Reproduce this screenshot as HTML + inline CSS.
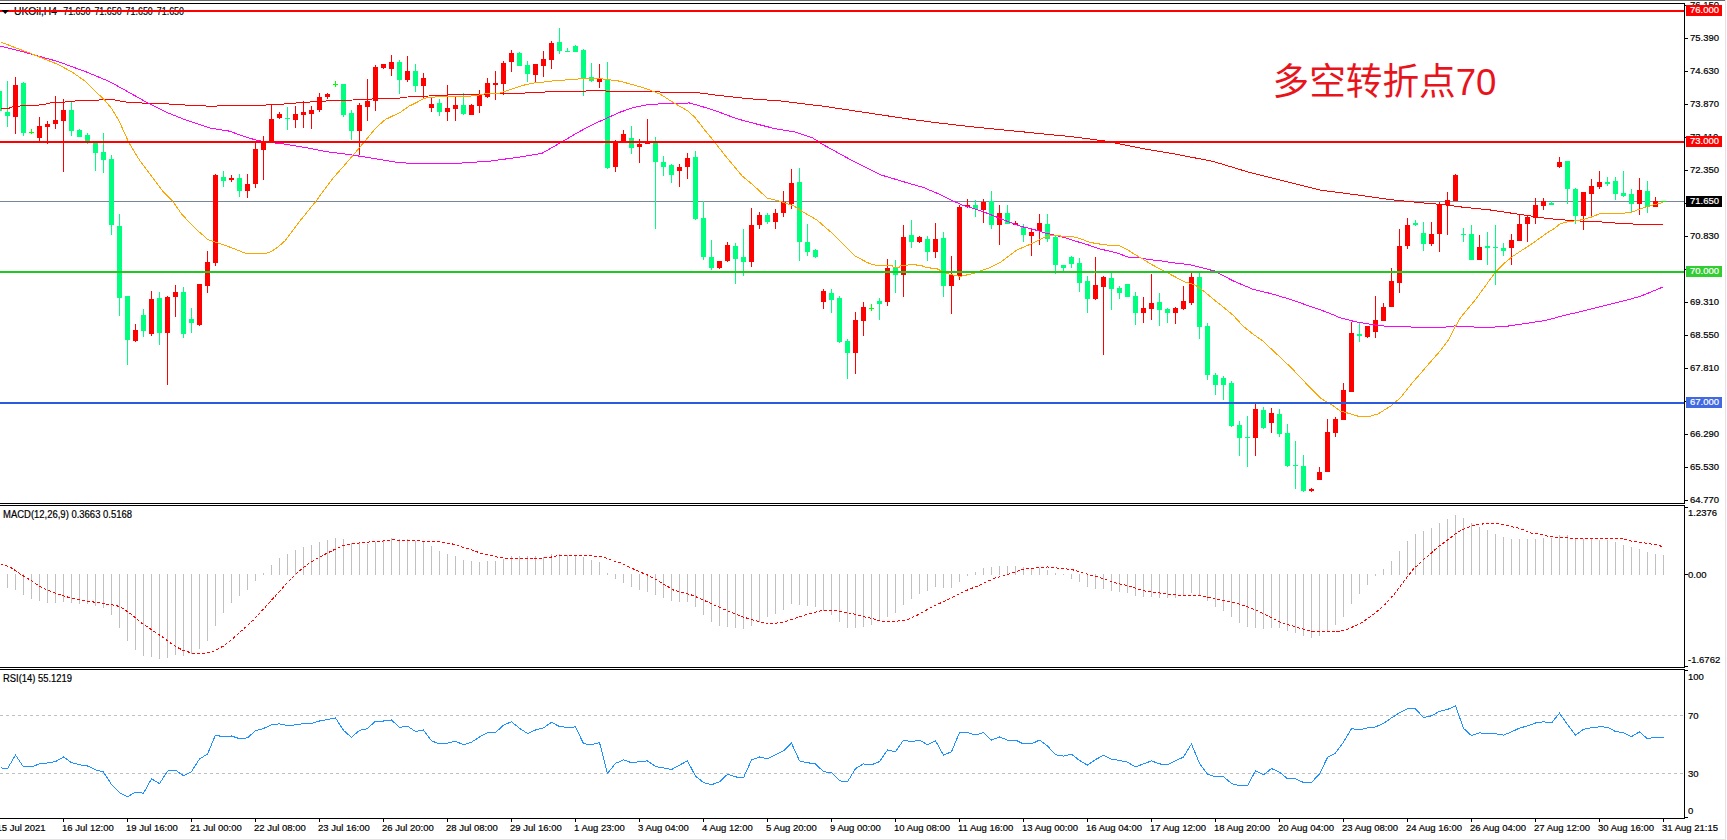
<!DOCTYPE html>
<html lang="zh"><head><meta charset="utf-8"><title>UKOil,H4</title>
<style>
html,body{margin:0;padding:0;background:#fff;}
body{width:1727px;height:840px;overflow:hidden;}
svg{display:block;}
svg text{font-family:"Liberation Sans","Noto Sans CJK SC",sans-serif;}
.sm{stroke:currentColor;stroke-width:0.3px;}
</style></head><body>
<svg width="1727" height="840" viewBox="0 0 1727 840">
<rect x="0" y="0" width="1727" height="840" fill="#fff"/>
<g shape-rendering="crispEdges">
<rect x="0" y="0" width="1725" height="1" fill="#6a6a6a"/>
<rect x="1725" y="0" width="1" height="840" fill="#e3e3e3"/>
<rect x="0" y="839" width="1726" height="1" fill="#e3e3e3"/>
<rect x="0" y="3" width="1684" height="1" fill="#000"/>
<rect x="0" y="503" width="1685" height="1" fill="#000"/>
<rect x="0" y="505" width="1684" height="1" fill="#000"/>
<rect x="0" y="667" width="1685" height="1" fill="#000"/>
<rect x="0" y="669" width="1684" height="1" fill="#000"/>
<rect x="0" y="818" width="1685" height="1" fill="#000"/>
<rect x="1684" y="3" width="1" height="501" fill="#000"/>
<rect x="1684" y="505" width="1" height="163" fill="#000"/>
<rect x="1684" y="669" width="1" height="150" fill="#000"/>
<defs><clipPath id="cm"><rect x="0" y="4" width="1684" height="499"/></clipPath><clipPath id="cd"><rect x="0" y="506" width="1684" height="161"/></clipPath><clipPath id="cr"><rect x="0" y="670" width="1684" height="148"/></clipPath></defs>
<g clip-path="url(#cm)">
<rect x="0" y="201" width="1684" height="1" fill="#778899"/>
<rect x="-1" y="88" width="1" height="27" fill="#00ff7f"/>
<rect x="-3" y="91" width="5" height="20" fill="#00ff7f"/>
<rect x="7" y="81" width="1" height="46" fill="#00ff7f"/>
<rect x="5" y="112" width="5" height="4" fill="#00ff7f"/>
<rect x="15" y="77" width="1" height="57" fill="#ff0000"/>
<rect x="13" y="85" width="5" height="32" fill="#ff0000"/>
<rect x="23" y="82" width="1" height="54" fill="#00ff7f"/>
<rect x="21" y="83" width="5" height="50" fill="#00ff7f"/>
<rect x="31" y="129" width="1" height="5" fill="#00ff00"/>
<rect x="29" y="132" width="5" height="1" fill="#00ff00"/>
<rect x="39" y="117" width="1" height="24" fill="#ff0000"/>
<rect x="37" y="126" width="5" height="12" fill="#ff0000"/>
<rect x="47" y="121" width="1" height="23" fill="#ff0000"/>
<rect x="45" y="124" width="5" height="3" fill="#ff0000"/>
<rect x="55" y="96" width="1" height="33" fill="#ff0000"/>
<rect x="53" y="120" width="5" height="4" fill="#ff0000"/>
<rect x="63" y="99" width="1" height="73" fill="#ff0000"/>
<rect x="61" y="110" width="5" height="11" fill="#ff0000"/>
<rect x="71" y="102" width="1" height="34" fill="#00ff7f"/>
<rect x="69" y="110" width="5" height="21" fill="#00ff7f"/>
<rect x="79" y="129" width="1" height="8" fill="#00ff7f"/>
<rect x="77" y="130" width="5" height="7" fill="#00ff7f"/>
<rect x="87" y="133" width="1" height="11" fill="#00ff7f"/>
<rect x="85" y="135" width="5" height="7" fill="#00ff7f"/>
<rect x="95" y="142" width="1" height="29" fill="#00ff7f"/>
<rect x="93" y="143" width="5" height="10" fill="#00ff7f"/>
<rect x="103" y="133" width="1" height="40" fill="#00ff7f"/>
<rect x="101" y="152" width="5" height="8" fill="#00ff7f"/>
<rect x="111" y="155" width="1" height="80" fill="#00ff7f"/>
<rect x="109" y="159" width="5" height="66" fill="#00ff7f"/>
<rect x="119" y="214" width="1" height="102" fill="#00ff7f"/>
<rect x="117" y="226" width="5" height="72" fill="#00ff7f"/>
<rect x="127" y="296" width="1" height="69" fill="#00ff7f"/>
<rect x="125" y="296" width="5" height="44" fill="#00ff7f"/>
<rect x="135" y="324" width="1" height="18" fill="#ff0000"/>
<rect x="133" y="330" width="5" height="11" fill="#ff0000"/>
<rect x="143" y="309" width="1" height="28" fill="#00ff7f"/>
<rect x="141" y="315" width="5" height="16" fill="#00ff7f"/>
<rect x="151" y="291" width="1" height="45" fill="#ff0000"/>
<rect x="149" y="299" width="5" height="35" fill="#ff0000"/>
<rect x="159" y="292" width="1" height="53" fill="#00ff7f"/>
<rect x="157" y="298" width="5" height="35" fill="#00ff7f"/>
<rect x="167" y="296" width="1" height="89" fill="#ff0000"/>
<rect x="165" y="297" width="5" height="36" fill="#ff0000"/>
<rect x="175" y="285" width="1" height="32" fill="#ff0000"/>
<rect x="173" y="292" width="5" height="5" fill="#ff0000"/>
<rect x="183" y="287" width="1" height="51" fill="#00ff7f"/>
<rect x="181" y="292" width="5" height="42" fill="#00ff7f"/>
<rect x="191" y="308" width="1" height="25" fill="#00ff7f"/>
<rect x="189" y="319" width="5" height="4" fill="#00ff7f"/>
<rect x="199" y="284" width="1" height="42" fill="#ff0000"/>
<rect x="197" y="284" width="5" height="41" fill="#ff0000"/>
<rect x="207" y="251" width="1" height="42" fill="#ff0000"/>
<rect x="205" y="262" width="5" height="24" fill="#ff0000"/>
<rect x="215" y="174" width="1" height="92" fill="#ff0000"/>
<rect x="213" y="175" width="5" height="88" fill="#ff0000"/>
<rect x="223" y="171" width="1" height="16" fill="#00ff7f"/>
<rect x="221" y="177" width="5" height="4" fill="#00ff7f"/>
<rect x="231" y="175" width="1" height="7" fill="#ff0000"/>
<rect x="229" y="178" width="5" height="2" fill="#ff0000"/>
<rect x="239" y="174" width="1" height="23" fill="#00ff7f"/>
<rect x="237" y="178" width="5" height="13" fill="#00ff7f"/>
<rect x="247" y="174" width="1" height="24" fill="#ff0000"/>
<rect x="245" y="184" width="5" height="7" fill="#ff0000"/>
<rect x="255" y="142" width="1" height="46" fill="#ff0000"/>
<rect x="253" y="149" width="5" height="35" fill="#ff0000"/>
<rect x="263" y="136" width="1" height="44" fill="#ff0000"/>
<rect x="261" y="142" width="5" height="8" fill="#ff0000"/>
<rect x="271" y="104" width="1" height="39" fill="#ff0000"/>
<rect x="269" y="119" width="5" height="23" fill="#ff0000"/>
<rect x="279" y="112" width="1" height="7" fill="#ff0000"/>
<rect x="277" y="114" width="5" height="4" fill="#ff0000"/>
<rect x="287" y="107" width="1" height="23" fill="#00ff7f"/>
<rect x="285" y="118" width="5" height="1" fill="#00ff7f"/>
<rect x="295" y="106" width="1" height="22" fill="#ff0000"/>
<rect x="293" y="114" width="5" height="6" fill="#ff0000"/>
<rect x="303" y="101" width="1" height="27" fill="#ff0000"/>
<rect x="301" y="112" width="5" height="3" fill="#ff0000"/>
<rect x="311" y="106" width="1" height="23" fill="#ff0000"/>
<rect x="309" y="110" width="5" height="4" fill="#ff0000"/>
<rect x="319" y="93" width="1" height="19" fill="#ff0000"/>
<rect x="317" y="97" width="5" height="13" fill="#ff0000"/>
<rect x="327" y="93" width="1" height="6" fill="#ff0000"/>
<rect x="325" y="94" width="5" height="3" fill="#ff0000"/>
<rect x="335" y="81" width="1" height="6" fill="#00ff00"/>
<rect x="333" y="84" width="5" height="1" fill="#00ff00"/>
<rect x="343" y="84" width="1" height="33" fill="#00ff7f"/>
<rect x="341" y="84" width="5" height="31" fill="#00ff7f"/>
<rect x="351" y="110" width="1" height="30" fill="#00ff7f"/>
<rect x="349" y="113" width="5" height="18" fill="#00ff7f"/>
<rect x="359" y="103" width="1" height="52" fill="#ff0000"/>
<rect x="357" y="105" width="5" height="26" fill="#ff0000"/>
<rect x="367" y="79" width="1" height="42" fill="#ff0000"/>
<rect x="365" y="101" width="5" height="6" fill="#ff0000"/>
<rect x="375" y="65" width="1" height="46" fill="#ff0000"/>
<rect x="373" y="67" width="5" height="34" fill="#ff0000"/>
<rect x="383" y="64" width="1" height="5" fill="#ff0000"/>
<rect x="381" y="64" width="5" height="4" fill="#ff0000"/>
<rect x="391" y="55" width="1" height="21" fill="#ff0000"/>
<rect x="389" y="62" width="5" height="7" fill="#ff0000"/>
<rect x="399" y="60" width="1" height="34" fill="#00ff7f"/>
<rect x="397" y="62" width="5" height="18" fill="#00ff7f"/>
<rect x="407" y="56" width="1" height="26" fill="#ff0000"/>
<rect x="405" y="71" width="5" height="9" fill="#ff0000"/>
<rect x="415" y="64" width="1" height="28" fill="#00ff7f"/>
<rect x="413" y="71" width="5" height="15" fill="#00ff7f"/>
<rect x="423" y="73" width="1" height="25" fill="#ff0000"/>
<rect x="421" y="78" width="5" height="8" fill="#ff0000"/>
<rect x="431" y="98" width="1" height="14" fill="#ff0000"/>
<rect x="429" y="104" width="5" height="4" fill="#ff0000"/>
<rect x="439" y="99" width="1" height="17" fill="#00ff7f"/>
<rect x="437" y="103" width="5" height="9" fill="#00ff7f"/>
<rect x="447" y="85" width="1" height="36" fill="#ff0000"/>
<rect x="445" y="108" width="5" height="4" fill="#ff0000"/>
<rect x="455" y="97" width="1" height="24" fill="#ff0000"/>
<rect x="453" y="105" width="5" height="4" fill="#ff0000"/>
<rect x="463" y="93" width="1" height="22" fill="#00ff7f"/>
<rect x="461" y="105" width="5" height="9" fill="#00ff7f"/>
<rect x="471" y="104" width="1" height="11" fill="#ff0000"/>
<rect x="469" y="105" width="5" height="10" fill="#ff0000"/>
<rect x="479" y="90" width="1" height="23" fill="#ff0000"/>
<rect x="477" y="94" width="5" height="12" fill="#ff0000"/>
<rect x="487" y="78" width="1" height="20" fill="#ff0000"/>
<rect x="485" y="83" width="5" height="14" fill="#ff0000"/>
<rect x="495" y="71" width="1" height="29" fill="#ff0000"/>
<rect x="493" y="83" width="5" height="2" fill="#ff0000"/>
<rect x="503" y="61" width="1" height="34" fill="#ff0000"/>
<rect x="501" y="63" width="5" height="21" fill="#ff0000"/>
<rect x="511" y="50" width="1" height="22" fill="#ff0000"/>
<rect x="509" y="53" width="5" height="9" fill="#ff0000"/>
<rect x="519" y="52" width="1" height="14" fill="#00ff7f"/>
<rect x="517" y="53" width="5" height="13" fill="#00ff7f"/>
<rect x="527" y="61" width="1" height="21" fill="#00ff7f"/>
<rect x="525" y="65" width="5" height="9" fill="#00ff7f"/>
<rect x="535" y="64" width="1" height="18" fill="#ff0000"/>
<rect x="533" y="64" width="5" height="11" fill="#ff0000"/>
<rect x="543" y="51" width="1" height="26" fill="#ff0000"/>
<rect x="541" y="59" width="5" height="7" fill="#ff0000"/>
<rect x="551" y="41" width="1" height="28" fill="#ff0000"/>
<rect x="549" y="43" width="5" height="17" fill="#ff0000"/>
<rect x="559" y="28" width="1" height="26" fill="#00ff7f"/>
<rect x="557" y="42" width="5" height="9" fill="#00ff7f"/>
<rect x="567" y="48" width="1" height="4" fill="#00ff7f"/>
<rect x="565" y="51" width="5" height="1" fill="#00ff7f"/>
<rect x="575" y="45" width="1" height="7" fill="#00ff7f"/>
<rect x="573" y="46" width="5" height="6" fill="#00ff7f"/>
<rect x="583" y="49" width="1" height="47" fill="#00ff7f"/>
<rect x="581" y="50" width="5" height="28" fill="#00ff7f"/>
<rect x="591" y="63" width="1" height="19" fill="#00ff7f"/>
<rect x="589" y="77" width="5" height="4" fill="#00ff7f"/>
<rect x="599" y="64" width="1" height="24" fill="#ff0000"/>
<rect x="597" y="78" width="5" height="4" fill="#ff0000"/>
<rect x="607" y="62" width="1" height="107" fill="#00ff7f"/>
<rect x="605" y="79" width="5" height="89" fill="#00ff7f"/>
<rect x="615" y="140" width="1" height="32" fill="#ff0000"/>
<rect x="613" y="142" width="5" height="25" fill="#ff0000"/>
<rect x="623" y="130" width="1" height="13" fill="#ff0000"/>
<rect x="621" y="134" width="5" height="9" fill="#ff0000"/>
<rect x="631" y="126" width="1" height="28" fill="#00ff7f"/>
<rect x="629" y="138" width="5" height="10" fill="#00ff7f"/>
<rect x="639" y="139" width="1" height="24" fill="#ff0000"/>
<rect x="637" y="144" width="5" height="3" fill="#ff0000"/>
<rect x="647" y="119" width="1" height="25" fill="#ff0000"/>
<rect x="645" y="142" width="5" height="2" fill="#ff0000"/>
<rect x="655" y="137" width="1" height="92" fill="#00ff7f"/>
<rect x="653" y="142" width="5" height="20" fill="#00ff7f"/>
<rect x="663" y="156" width="1" height="20" fill="#00ff7f"/>
<rect x="661" y="162" width="5" height="5" fill="#00ff7f"/>
<rect x="671" y="164" width="1" height="19" fill="#00ff7f"/>
<rect x="669" y="165" width="5" height="10" fill="#00ff7f"/>
<rect x="679" y="164" width="1" height="23" fill="#ff0000"/>
<rect x="677" y="167" width="5" height="4" fill="#ff0000"/>
<rect x="687" y="153" width="1" height="26" fill="#ff0000"/>
<rect x="685" y="158" width="5" height="9" fill="#ff0000"/>
<rect x="695" y="151" width="1" height="69" fill="#00ff7f"/>
<rect x="693" y="157" width="5" height="62" fill="#00ff7f"/>
<rect x="703" y="201" width="1" height="59" fill="#00ff7f"/>
<rect x="701" y="218" width="5" height="39" fill="#00ff7f"/>
<rect x="711" y="240" width="1" height="30" fill="#00ff7f"/>
<rect x="709" y="257" width="5" height="11" fill="#00ff7f"/>
<rect x="719" y="261" width="1" height="8" fill="#ff0000"/>
<rect x="717" y="261" width="5" height="7" fill="#ff0000"/>
<rect x="727" y="242" width="1" height="20" fill="#ff0000"/>
<rect x="725" y="245" width="5" height="16" fill="#ff0000"/>
<rect x="735" y="243" width="1" height="41" fill="#00ff7f"/>
<rect x="733" y="246" width="5" height="13" fill="#00ff7f"/>
<rect x="743" y="229" width="1" height="47" fill="#00ff7f"/>
<rect x="741" y="257" width="5" height="5" fill="#00ff7f"/>
<rect x="751" y="208" width="1" height="59" fill="#ff0000"/>
<rect x="749" y="225" width="5" height="37" fill="#ff0000"/>
<rect x="759" y="212" width="1" height="17" fill="#ff0000"/>
<rect x="757" y="215" width="5" height="10" fill="#ff0000"/>
<rect x="767" y="213" width="1" height="11" fill="#00ff7f"/>
<rect x="765" y="215" width="5" height="7" fill="#00ff7f"/>
<rect x="775" y="209" width="1" height="20" fill="#ff0000"/>
<rect x="773" y="213" width="5" height="9" fill="#ff0000"/>
<rect x="783" y="191" width="1" height="26" fill="#ff0000"/>
<rect x="781" y="202" width="5" height="11" fill="#ff0000"/>
<rect x="791" y="169" width="1" height="40" fill="#ff0000"/>
<rect x="789" y="183" width="5" height="21" fill="#ff0000"/>
<rect x="799" y="168" width="1" height="93" fill="#00ff7f"/>
<rect x="797" y="182" width="5" height="60" fill="#00ff7f"/>
<rect x="807" y="224" width="1" height="32" fill="#00ff7f"/>
<rect x="805" y="242" width="5" height="10" fill="#00ff7f"/>
<rect x="815" y="249" width="1" height="9" fill="#00ff7f"/>
<rect x="813" y="250" width="5" height="7" fill="#00ff7f"/>
<rect x="823" y="289" width="1" height="20" fill="#ff0000"/>
<rect x="821" y="291" width="5" height="11" fill="#ff0000"/>
<rect x="831" y="289" width="1" height="24" fill="#00ff7f"/>
<rect x="829" y="293" width="5" height="7" fill="#00ff7f"/>
<rect x="839" y="296" width="1" height="47" fill="#00ff7f"/>
<rect x="837" y="298" width="5" height="44" fill="#00ff7f"/>
<rect x="847" y="339" width="1" height="40" fill="#00ff7f"/>
<rect x="845" y="341" width="5" height="12" fill="#00ff7f"/>
<rect x="855" y="312" width="1" height="62" fill="#ff0000"/>
<rect x="853" y="320" width="5" height="33" fill="#ff0000"/>
<rect x="863" y="302" width="1" height="34" fill="#ff0000"/>
<rect x="861" y="307" width="5" height="14" fill="#ff0000"/>
<rect x="871" y="304" width="1" height="7" fill="#00ff00"/>
<rect x="869" y="308" width="5" height="1" fill="#00ff00"/>
<rect x="879" y="298" width="1" height="22" fill="#00ff7f"/>
<rect x="877" y="301" width="5" height="3" fill="#00ff7f"/>
<rect x="887" y="259" width="1" height="47" fill="#ff0000"/>
<rect x="885" y="268" width="5" height="34" fill="#ff0000"/>
<rect x="895" y="260" width="1" height="33" fill="#00ff7f"/>
<rect x="893" y="268" width="5" height="7" fill="#00ff7f"/>
<rect x="903" y="225" width="1" height="72" fill="#ff0000"/>
<rect x="901" y="237" width="5" height="38" fill="#ff0000"/>
<rect x="911" y="220" width="1" height="28" fill="#00ff7f"/>
<rect x="909" y="235" width="5" height="7" fill="#00ff7f"/>
<rect x="919" y="236" width="1" height="7" fill="#ff0000"/>
<rect x="917" y="237" width="5" height="5" fill="#ff0000"/>
<rect x="927" y="236" width="1" height="25" fill="#00ff7f"/>
<rect x="925" y="239" width="5" height="13" fill="#00ff7f"/>
<rect x="935" y="223" width="1" height="35" fill="#ff0000"/>
<rect x="933" y="239" width="5" height="13" fill="#ff0000"/>
<rect x="943" y="232" width="1" height="65" fill="#00ff7f"/>
<rect x="941" y="238" width="5" height="48" fill="#00ff7f"/>
<rect x="951" y="256" width="1" height="58" fill="#ff0000"/>
<rect x="949" y="275" width="5" height="11" fill="#ff0000"/>
<rect x="959" y="205" width="1" height="75" fill="#ff0000"/>
<rect x="957" y="207" width="5" height="69" fill="#ff0000"/>
<rect x="967" y="199" width="1" height="9" fill="#ff0000"/>
<rect x="965" y="205" width="5" height="2" fill="#ff0000"/>
<rect x="975" y="200" width="1" height="17" fill="#00ff7f"/>
<rect x="973" y="205" width="5" height="4" fill="#00ff7f"/>
<rect x="983" y="199" width="1" height="24" fill="#ff0000"/>
<rect x="981" y="202" width="5" height="8" fill="#ff0000"/>
<rect x="991" y="191" width="1" height="38" fill="#00ff7f"/>
<rect x="989" y="201" width="5" height="24" fill="#00ff7f"/>
<rect x="999" y="205" width="1" height="40" fill="#ff0000"/>
<rect x="997" y="213" width="5" height="12" fill="#ff0000"/>
<rect x="1007" y="205" width="1" height="19" fill="#00ff7f"/>
<rect x="1005" y="213" width="5" height="11" fill="#00ff7f"/>
<rect x="1015" y="221" width="1" height="4" fill="#ff0000"/>
<rect x="1013" y="223" width="5" height="2" fill="#ff0000"/>
<rect x="1023" y="224" width="1" height="18" fill="#00ff7f"/>
<rect x="1021" y="227" width="5" height="8" fill="#00ff7f"/>
<rect x="1031" y="229" width="1" height="27" fill="#ff0000"/>
<rect x="1029" y="232" width="5" height="4" fill="#ff0000"/>
<rect x="1039" y="214" width="1" height="31" fill="#ff0000"/>
<rect x="1037" y="223" width="5" height="8" fill="#ff0000"/>
<rect x="1047" y="214" width="1" height="28" fill="#00ff7f"/>
<rect x="1045" y="224" width="5" height="15" fill="#00ff7f"/>
<rect x="1055" y="236" width="1" height="38" fill="#00ff7f"/>
<rect x="1053" y="237" width="5" height="28" fill="#00ff7f"/>
<rect x="1063" y="265" width="1" height="6" fill="#00ff7f"/>
<rect x="1061" y="265" width="5" height="3" fill="#00ff7f"/>
<rect x="1071" y="256" width="1" height="12" fill="#00ff7f"/>
<rect x="1069" y="257" width="5" height="7" fill="#00ff7f"/>
<rect x="1079" y="258" width="1" height="34" fill="#00ff7f"/>
<rect x="1077" y="263" width="5" height="20" fill="#00ff7f"/>
<rect x="1087" y="276" width="1" height="37" fill="#00ff7f"/>
<rect x="1085" y="281" width="5" height="18" fill="#00ff7f"/>
<rect x="1095" y="257" width="1" height="43" fill="#ff0000"/>
<rect x="1093" y="285" width="5" height="14" fill="#ff0000"/>
<rect x="1103" y="276" width="1" height="79" fill="#ff0000"/>
<rect x="1101" y="277" width="5" height="10" fill="#ff0000"/>
<rect x="1111" y="273" width="1" height="37" fill="#00ff7f"/>
<rect x="1109" y="278" width="5" height="11" fill="#00ff7f"/>
<rect x="1119" y="286" width="1" height="13" fill="#00ff7f"/>
<rect x="1117" y="288" width="5" height="5" fill="#00ff7f"/>
<rect x="1127" y="284" width="1" height="13" fill="#00ff7f"/>
<rect x="1125" y="284" width="5" height="13" fill="#00ff7f"/>
<rect x="1135" y="292" width="1" height="33" fill="#00ff7f"/>
<rect x="1133" y="296" width="5" height="17" fill="#00ff7f"/>
<rect x="1143" y="297" width="1" height="26" fill="#ff0000"/>
<rect x="1141" y="308" width="5" height="5" fill="#ff0000"/>
<rect x="1151" y="274" width="1" height="46" fill="#ff0000"/>
<rect x="1149" y="303" width="5" height="6" fill="#ff0000"/>
<rect x="1159" y="293" width="1" height="33" fill="#00ff7f"/>
<rect x="1157" y="302" width="5" height="8" fill="#00ff7f"/>
<rect x="1167" y="308" width="1" height="15" fill="#00ff7f"/>
<rect x="1165" y="309" width="5" height="4" fill="#00ff7f"/>
<rect x="1175" y="307" width="1" height="17" fill="#ff0000"/>
<rect x="1173" y="308" width="5" height="5" fill="#ff0000"/>
<rect x="1183" y="286" width="1" height="24" fill="#ff0000"/>
<rect x="1181" y="301" width="5" height="8" fill="#ff0000"/>
<rect x="1191" y="273" width="1" height="32" fill="#ff0000"/>
<rect x="1189" y="277" width="5" height="26" fill="#ff0000"/>
<rect x="1199" y="273" width="1" height="66" fill="#00ff7f"/>
<rect x="1197" y="277" width="5" height="50" fill="#00ff7f"/>
<rect x="1207" y="323" width="1" height="57" fill="#00ff7f"/>
<rect x="1205" y="326" width="5" height="49" fill="#00ff7f"/>
<rect x="1215" y="373" width="1" height="22" fill="#00ff7f"/>
<rect x="1213" y="375" width="5" height="10" fill="#00ff7f"/>
<rect x="1223" y="376" width="1" height="24" fill="#00ff7f"/>
<rect x="1221" y="378" width="5" height="7" fill="#00ff7f"/>
<rect x="1231" y="381" width="1" height="46" fill="#00ff7f"/>
<rect x="1229" y="383" width="5" height="43" fill="#00ff7f"/>
<rect x="1239" y="421" width="1" height="35" fill="#00ff7f"/>
<rect x="1237" y="425" width="5" height="13" fill="#00ff7f"/>
<rect x="1247" y="416" width="1" height="51" fill="#00ff7f"/>
<rect x="1245" y="437" width="5" height="1" fill="#00ff7f"/>
<rect x="1255" y="404" width="1" height="52" fill="#ff0000"/>
<rect x="1253" y="409" width="5" height="29" fill="#ff0000"/>
<rect x="1263" y="407" width="1" height="22" fill="#00ff7f"/>
<rect x="1261" y="410" width="5" height="18" fill="#00ff7f"/>
<rect x="1271" y="408" width="1" height="25" fill="#ff0000"/>
<rect x="1269" y="413" width="5" height="10" fill="#ff0000"/>
<rect x="1279" y="409" width="1" height="28" fill="#00ff7f"/>
<rect x="1277" y="414" width="5" height="20" fill="#00ff7f"/>
<rect x="1287" y="424" width="1" height="43" fill="#00ff7f"/>
<rect x="1285" y="433" width="5" height="33" fill="#00ff7f"/>
<rect x="1295" y="441" width="1" height="48" fill="#00ff7f"/>
<rect x="1293" y="465" width="5" height="1" fill="#00ff7f"/>
<rect x="1303" y="455" width="1" height="37" fill="#00ff7f"/>
<rect x="1301" y="466" width="5" height="25" fill="#00ff7f"/>
<rect x="1311" y="488" width="1" height="4" fill="#ff0000"/>
<rect x="1309" y="489" width="5" height="2" fill="#ff0000"/>
<rect x="1319" y="467" width="1" height="13" fill="#ff0000"/>
<rect x="1317" y="472" width="5" height="8" fill="#ff0000"/>
<rect x="1327" y="419" width="1" height="53" fill="#ff0000"/>
<rect x="1325" y="432" width="5" height="40" fill="#ff0000"/>
<rect x="1335" y="417" width="1" height="20" fill="#ff0000"/>
<rect x="1333" y="419" width="5" height="14" fill="#ff0000"/>
<rect x="1343" y="383" width="1" height="37" fill="#ff0000"/>
<rect x="1341" y="390" width="5" height="30" fill="#ff0000"/>
<rect x="1351" y="322" width="1" height="70" fill="#ff0000"/>
<rect x="1349" y="333" width="5" height="59" fill="#ff0000"/>
<rect x="1359" y="322" width="1" height="20" fill="#00ff7f"/>
<rect x="1357" y="334" width="5" height="2" fill="#00ff7f"/>
<rect x="1367" y="326" width="1" height="12" fill="#ff0000"/>
<rect x="1365" y="326" width="5" height="11" fill="#ff0000"/>
<rect x="1375" y="296" width="1" height="42" fill="#ff0000"/>
<rect x="1373" y="320" width="5" height="12" fill="#ff0000"/>
<rect x="1383" y="303" width="1" height="18" fill="#ff0000"/>
<rect x="1381" y="307" width="5" height="14" fill="#ff0000"/>
<rect x="1391" y="268" width="1" height="39" fill="#ff0000"/>
<rect x="1389" y="281" width="5" height="26" fill="#ff0000"/>
<rect x="1399" y="229" width="1" height="64" fill="#ff0000"/>
<rect x="1397" y="246" width="5" height="37" fill="#ff0000"/>
<rect x="1407" y="218" width="1" height="31" fill="#ff0000"/>
<rect x="1405" y="225" width="5" height="21" fill="#ff0000"/>
<rect x="1415" y="220" width="1" height="6" fill="#00ff7f"/>
<rect x="1413" y="223" width="5" height="2" fill="#00ff7f"/>
<rect x="1423" y="222" width="1" height="29" fill="#00ff7f"/>
<rect x="1421" y="233" width="5" height="11" fill="#00ff7f"/>
<rect x="1431" y="222" width="1" height="24" fill="#ff0000"/>
<rect x="1429" y="234" width="5" height="10" fill="#ff0000"/>
<rect x="1439" y="202" width="1" height="50" fill="#ff0000"/>
<rect x="1437" y="204" width="5" height="30" fill="#ff0000"/>
<rect x="1447" y="192" width="1" height="43" fill="#ff0000"/>
<rect x="1445" y="200" width="5" height="5" fill="#ff0000"/>
<rect x="1455" y="174" width="1" height="27" fill="#ff0000"/>
<rect x="1453" y="175" width="5" height="26" fill="#ff0000"/>
<rect x="1463" y="228" width="1" height="14" fill="#00ff7f"/>
<rect x="1461" y="234" width="5" height="1" fill="#00ff7f"/>
<rect x="1471" y="225" width="1" height="35" fill="#00ff7f"/>
<rect x="1469" y="234" width="5" height="26" fill="#00ff7f"/>
<rect x="1479" y="235" width="1" height="25" fill="#ff0000"/>
<rect x="1477" y="247" width="5" height="13" fill="#ff0000"/>
<rect x="1487" y="232" width="1" height="33" fill="#00ff7f"/>
<rect x="1485" y="246" width="5" height="2" fill="#00ff7f"/>
<rect x="1495" y="225" width="1" height="60" fill="#00ff7f"/>
<rect x="1493" y="247" width="5" height="1" fill="#00ff7f"/>
<rect x="1503" y="243" width="1" height="13" fill="#00ff7f"/>
<rect x="1501" y="248" width="5" height="3" fill="#00ff7f"/>
<rect x="1511" y="234" width="1" height="31" fill="#ff0000"/>
<rect x="1509" y="240" width="5" height="8" fill="#ff0000"/>
<rect x="1519" y="214" width="1" height="27" fill="#ff0000"/>
<rect x="1517" y="224" width="5" height="17" fill="#ff0000"/>
<rect x="1527" y="216" width="1" height="26" fill="#ff0000"/>
<rect x="1525" y="217" width="5" height="7" fill="#ff0000"/>
<rect x="1535" y="198" width="1" height="26" fill="#ff0000"/>
<rect x="1533" y="205" width="5" height="13" fill="#ff0000"/>
<rect x="1543" y="198" width="1" height="12" fill="#ff0000"/>
<rect x="1541" y="201" width="5" height="5" fill="#ff0000"/>
<rect x="1551" y="201" width="1" height="4" fill="#00ff7f"/>
<rect x="1549" y="203" width="5" height="2" fill="#00ff7f"/>
<rect x="1559" y="157" width="1" height="11" fill="#ff0000"/>
<rect x="1557" y="162" width="5" height="5" fill="#ff0000"/>
<rect x="1567" y="161" width="1" height="43" fill="#00ff7f"/>
<rect x="1565" y="161" width="5" height="28" fill="#00ff7f"/>
<rect x="1575" y="188" width="1" height="36" fill="#00ff7f"/>
<rect x="1573" y="189" width="5" height="27" fill="#00ff7f"/>
<rect x="1583" y="192" width="1" height="38" fill="#ff0000"/>
<rect x="1581" y="192" width="5" height="24" fill="#ff0000"/>
<rect x="1591" y="179" width="1" height="39" fill="#ff0000"/>
<rect x="1589" y="186" width="5" height="8" fill="#ff0000"/>
<rect x="1599" y="171" width="1" height="18" fill="#ff0000"/>
<rect x="1597" y="182" width="5" height="5" fill="#ff0000"/>
<rect x="1607" y="177" width="1" height="9" fill="#00ff7f"/>
<rect x="1605" y="182" width="5" height="2" fill="#00ff7f"/>
<rect x="1615" y="177" width="1" height="23" fill="#00ff7f"/>
<rect x="1613" y="181" width="5" height="13" fill="#00ff7f"/>
<rect x="1623" y="171" width="1" height="26" fill="#00ff7f"/>
<rect x="1621" y="193" width="5" height="3" fill="#00ff7f"/>
<rect x="1631" y="189" width="1" height="23" fill="#00ff7f"/>
<rect x="1629" y="194" width="5" height="10" fill="#00ff7f"/>
<rect x="1639" y="178" width="1" height="37" fill="#ff0000"/>
<rect x="1637" y="190" width="5" height="14" fill="#ff0000"/>
<rect x="1647" y="181" width="1" height="32" fill="#00ff7f"/>
<rect x="1645" y="191" width="5" height="16" fill="#00ff7f"/>
<rect x="1655" y="197" width="1" height="10" fill="#ff0000"/>
<rect x="1653" y="201" width="5" height="6" fill="#ff0000"/>
<rect x="1661" y="201" width="5" height="1" fill="#00ff00"/>
<polyline points="0.5,108.0 9.5,108.0 13.5,106.5 26.5,105.5 43.5,104.8 51.5,102.5 67.5,101.9 75.5,100.9 90.5,101.0 101.9,99.6 115.3,100.0 124.8,101.9 140.0,102.9 157.2,103.8 180.0,104.2 189.5,105.7 210.5,106.1 257.5,105.4 280.5,104.3 303.4,102.4 318.5,101.5 333.8,100.5 356.7,99.9 375.7,98.8 400.5,98.0 403.0,97.2 419.5,96.5 450.5,94.8 483.0,94.2 507.2,93.4 525.5,93.0 539.5,92.2 547.5,91.9 576.2,91.4 599.1,90.5 619.1,91.9 660.5,92.0 698.5,92.8 717.5,95.3 746.2,98.5 780.5,101.0 794.8,102.8 823.4,106.2 851.9,110.5 880.5,114.8 909.1,119.1 937.5,122.8 966.2,126.2 994.8,129.1 1023.4,131.9 1051.9,134.8 1070.5,136.5 1106.2,141.2 1141.9,148.4 1177.5,154.5 1213.4,161.5 1249.1,172.3 1284.8,181.2 1320.5,190.1 1356.2,194.8 1391.9,199.8 1427.5,203.4 1440.5,204.3 1460.5,206.9 1474.8,208.4 1489.1,209.8 1503.4,211.9 1517.6,214.1 1531.9,216.2 1540.5,217.6 1560.5,219.8 1574.8,220.5 1589.1,221.9 1600.5,221.9 1611.9,222.8 1631.0,223.9 1650.0,224.9 1663.4,224.9" fill="none" stroke="#ff0000" stroke-width="1"/>
<polyline points="0.5,46.2 29.1,53.4 57.5,61.4 86.2,71.9 109.1,81.4 125.7,90.5 147.5,102.9 166.7,112.4 185.7,120.0 210.5,128.2 229.1,131.1 243.4,136.2 257.5,140.5 271.9,142.8 280.5,143.4 303.4,147.2 328.1,151.9 343.4,153.8 360.5,156.3 379.5,159.5 400.5,162.8 430.5,163.9 456.2,163.4 490.5,161.1 519.1,157.1 541.9,153.4 561.9,141.9 576.2,133.4 590.5,125.6 604.8,119.1 619.1,112.5 633.4,107.6 647.5,104.8 660.5,103.8 681.5,103.8 689.1,102.9 698.5,105.4 717.5,111.5 736.7,118.7 755.7,123.8 774.8,128.6 794.8,131.9 811.9,137.5 823.4,144.8 851.9,160.5 880.5,174.8 909.1,183.4 923.4,187.5 937.5,193.4 950.5,199.8 962.4,205.1 974.3,208.7 986.2,212.9 998.1,217.6 1010.0,222.4 1021.9,226.6 1033.8,229.5 1045.7,233.1 1060.5,236.5 1066.9,238.2 1076.5,241.4 1087.3,244.6 1098.0,248.5 1108.7,251.0 1119.4,253.7 1126.9,256.9 1140.8,258.0 1151.5,259.9 1162.3,261.0 1173.0,262.8 1183.7,263.9 1194.4,265.5 1195.5,266.2 1214.5,271.0 1233.6,281.1 1252.6,289.1 1271.7,293.8 1290.7,299.5 1309.8,306.2 1328.8,312.9 1340.5,317.9 1354.8,321.6 1369.1,324.1 1380.5,325.9 1404.8,326.6 1420.5,327.6 1443.4,327.4 1454.8,325.9 1470.5,326.9 1488.1,327.5 1507.2,326.2 1526.2,323.4 1545.3,320.5 1564.3,315.4 1583.4,311.0 1602.4,306.2 1621.5,301.5 1640.5,296.3 1663.4,286.8" fill="none" stroke="#ff00ff" stroke-width="1"/>
<polyline points="0.5,41.9 14.8,47.5 29.1,52.8 57.5,64.2 71.9,71.9 86.2,81.9 94.3,90.5 103.8,99.1 111.5,108.5 119.1,121.0 128.5,141.9 140.0,161.0 151.5,176.2 162.9,191.5 172.4,201.0 181.9,214.3 193.4,226.7 197.6,230.5 208.1,239.7 217.9,242.9 225.8,245.5 246.7,253.8 265.1,253.8 271.5,251.5 278.1,246.9 285.3,240.5 299.5,221.5 315.7,201.5 331.9,179.5 345.3,164.3 356.7,151.0 366.2,139.5 375.7,128.1 385.3,119.5 400.5,112.2 408.8,106.3 417.2,102.2 423.8,98.4 429.7,97.2 450.5,96.5 475.5,95.9 483.8,94.0 491.3,93.8 499.7,93.2 508.8,90.1 517.2,87.2 525.5,84.7 535.5,82.6 540.5,82.8 547.5,81.4 576.2,79.1 590.5,78.2 604.8,79.1 619.1,81.1 633.4,84.8 647.5,89.1 660.5,94.3 673.8,102.9 687.2,110.5 694.8,117.2 704.3,129.5 713.8,141.0 723.4,153.4 732.9,164.8 742.4,176.2 753.8,185.7 767.2,198.1 770.5,198.8 778.4,200.8 786.2,203.4 794.1,206.0 801.9,211.3 809.8,215.9 817.6,220.5 825.5,227.6 833.4,234.2 841.2,242.0 849.1,249.9 855.6,256.5 860.5,258.8 864.0,260.8 866.3,262.0 870.3,263.9 874.4,264.9 878.5,265.9 892.3,265.9 892.9,267.0 899.3,267.0 899.9,265.9 907.4,265.9 908.0,264.8 916.1,264.8 916.7,265.9 922.2,265.9 926.5,267.8 932.3,268.1 937.5,269.0 941.5,271.0 948.5,273.9 954.3,275.3 960.0,276.5 973.1,273.5 980.3,271.0 989.8,267.6 1000.5,262.3 1007.6,256.9 1017.2,249.8 1024.3,246.8 1031.5,243.8 1041.0,239.1 1046.9,236.1 1054.1,235.7 1060.5,236.0 1068.0,236.0 1074.4,237.1 1081.9,239.2 1088.3,241.9 1095.8,243.5 1107.6,245.1 1119.9,246.0 1126.9,249.4 1135.5,254.8 1141.9,258.5 1151.5,264.4 1163.3,270.8 1174.0,276.2 1183.7,281.5 1191.2,283.7 1195.5,285.3 1203.1,290.6 1212.6,298.6 1222.2,306.2 1233.6,315.7 1243.1,326.2 1252.6,333.8 1262.2,340.5 1275.5,352.9 1290.7,367.2 1307.9,385.3 1321.2,398.6 1332.6,405.3 1340.5,411.2 1349.1,413.4 1359.1,416.5 1369.1,416.5 1377.6,414.1 1390.5,406.2 1400.5,397.6 1411.9,383.4 1426.2,366.9 1440.5,350.5 1449.1,339.1 1454.8,327.6 1460.5,317.6 1474.8,300.5 1486.2,284.8 1496.2,271.2 1503.4,264.1 1511.9,256.9 1520.5,251.2 1534.8,241.9 1546.2,233.4 1553.4,229.1 1560.5,223.6 1567.6,221.9 1581.9,219.8 1591.9,216.9 1600.5,213.4 1602.4,213.8 1621.5,213.3 1631.0,212.5 1640.5,208.7 1650.0,205.8 1663.4,202.4" fill="none" stroke="#ffa500" stroke-width="1"/>
<rect x="0" y="10" width="1684" height="2" fill="#ff0000"/>
<rect x="0" y="141" width="1684" height="2" fill="#ff0000"/>
<rect x="0" y="271" width="1684" height="2" fill="#1ec81e"/>
<rect x="0" y="402" width="1684" height="2" fill="#2a5ade"/>
</g>
<g clip-path="url(#cd)">
<rect x="7" y="574" width="1" height="14" fill="#c0c0c0"/>
<rect x="15" y="574" width="1" height="16" fill="#c0c0c0"/>
<rect x="23" y="574" width="1" height="21" fill="#c0c0c0"/>
<rect x="31" y="574" width="1" height="25" fill="#c0c0c0"/>
<rect x="39" y="574" width="1" height="27" fill="#c0c0c0"/>
<rect x="47" y="574" width="1" height="29" fill="#c0c0c0"/>
<rect x="55" y="574" width="1" height="29" fill="#c0c0c0"/>
<rect x="63" y="574" width="1" height="28" fill="#c0c0c0"/>
<rect x="71" y="574" width="1" height="29" fill="#c0c0c0"/>
<rect x="79" y="574" width="1" height="30" fill="#c0c0c0"/>
<rect x="87" y="574" width="1" height="30" fill="#c0c0c0"/>
<rect x="95" y="574" width="1" height="32" fill="#c0c0c0"/>
<rect x="103" y="574" width="1" height="34" fill="#c0c0c0"/>
<rect x="111" y="574" width="1" height="41" fill="#c0c0c0"/>
<rect x="119" y="574" width="1" height="54" fill="#c0c0c0"/>
<rect x="127" y="574" width="1" height="67" fill="#c0c0c0"/>
<rect x="135" y="574" width="1" height="76" fill="#c0c0c0"/>
<rect x="143" y="574" width="1" height="82" fill="#c0c0c0"/>
<rect x="151" y="574" width="1" height="83" fill="#c0c0c0"/>
<rect x="159" y="574" width="1" height="85" fill="#c0c0c0"/>
<rect x="167" y="574" width="1" height="84" fill="#c0c0c0"/>
<rect x="175" y="574" width="1" height="81" fill="#c0c0c0"/>
<rect x="183" y="574" width="1" height="82" fill="#c0c0c0"/>
<rect x="191" y="574" width="1" height="80" fill="#c0c0c0"/>
<rect x="199" y="574" width="1" height="75" fill="#c0c0c0"/>
<rect x="207" y="574" width="1" height="67" fill="#c0c0c0"/>
<rect x="215" y="574" width="1" height="52" fill="#c0c0c0"/>
<rect x="223" y="574" width="1" height="39" fill="#c0c0c0"/>
<rect x="231" y="574" width="1" height="29" fill="#c0c0c0"/>
<rect x="239" y="574" width="1" height="22" fill="#c0c0c0"/>
<rect x="247" y="574" width="1" height="16" fill="#c0c0c0"/>
<rect x="255" y="574" width="1" height="7" fill="#c0c0c0"/>
<rect x="263" y="573" width="1" height="2" fill="#c0c0c0"/>
<rect x="271" y="565" width="1" height="10" fill="#c0c0c0"/>
<rect x="279" y="558" width="1" height="17" fill="#c0c0c0"/>
<rect x="287" y="554" width="1" height="21" fill="#c0c0c0"/>
<rect x="295" y="550" width="1" height="25" fill="#c0c0c0"/>
<rect x="303" y="547" width="1" height="28" fill="#c0c0c0"/>
<rect x="311" y="545" width="1" height="30" fill="#c0c0c0"/>
<rect x="319" y="542" width="1" height="33" fill="#c0c0c0"/>
<rect x="327" y="540" width="1" height="35" fill="#c0c0c0"/>
<rect x="335" y="538" width="1" height="37" fill="#c0c0c0"/>
<rect x="343" y="539" width="1" height="36" fill="#c0c0c0"/>
<rect x="351" y="543" width="1" height="32" fill="#c0c0c0"/>
<rect x="359" y="543" width="1" height="32" fill="#c0c0c0"/>
<rect x="367" y="544" width="1" height="31" fill="#c0c0c0"/>
<rect x="375" y="542" width="1" height="33" fill="#c0c0c0"/>
<rect x="383" y="540" width="1" height="35" fill="#c0c0c0"/>
<rect x="391" y="538" width="1" height="37" fill="#c0c0c0"/>
<rect x="399" y="539" width="1" height="36" fill="#c0c0c0"/>
<rect x="407" y="539" width="1" height="36" fill="#c0c0c0"/>
<rect x="415" y="541" width="1" height="34" fill="#c0c0c0"/>
<rect x="423" y="542" width="1" height="33" fill="#c0c0c0"/>
<rect x="431" y="546" width="1" height="29" fill="#c0c0c0"/>
<rect x="439" y="551" width="1" height="24" fill="#c0c0c0"/>
<rect x="447" y="554" width="1" height="21" fill="#c0c0c0"/>
<rect x="455" y="556" width="1" height="19" fill="#c0c0c0"/>
<rect x="463" y="560" width="1" height="15" fill="#c0c0c0"/>
<rect x="471" y="561" width="1" height="14" fill="#c0c0c0"/>
<rect x="479" y="562" width="1" height="13" fill="#c0c0c0"/>
<rect x="487" y="561" width="1" height="14" fill="#c0c0c0"/>
<rect x="495" y="561" width="1" height="14" fill="#c0c0c0"/>
<rect x="503" y="559" width="1" height="16" fill="#c0c0c0"/>
<rect x="511" y="556" width="1" height="19" fill="#c0c0c0"/>
<rect x="519" y="556" width="1" height="19" fill="#c0c0c0"/>
<rect x="527" y="556" width="1" height="19" fill="#c0c0c0"/>
<rect x="535" y="556" width="1" height="19" fill="#c0c0c0"/>
<rect x="543" y="557" width="1" height="18" fill="#c0c0c0"/>
<rect x="551" y="554" width="1" height="21" fill="#c0c0c0"/>
<rect x="559" y="554" width="1" height="21" fill="#c0c0c0"/>
<rect x="567" y="555" width="1" height="20" fill="#c0c0c0"/>
<rect x="575" y="555" width="1" height="20" fill="#c0c0c0"/>
<rect x="583" y="557" width="1" height="18" fill="#c0c0c0"/>
<rect x="591" y="560" width="1" height="15" fill="#c0c0c0"/>
<rect x="599" y="562" width="1" height="13" fill="#c0c0c0"/>
<rect x="607" y="573" width="1" height="2" fill="#c0c0c0"/>
<rect x="615" y="574" width="1" height="5" fill="#c0c0c0"/>
<rect x="623" y="574" width="1" height="9" fill="#c0c0c0"/>
<rect x="631" y="574" width="1" height="13" fill="#c0c0c0"/>
<rect x="639" y="574" width="1" height="16" fill="#c0c0c0"/>
<rect x="647" y="574" width="1" height="18" fill="#c0c0c0"/>
<rect x="655" y="574" width="1" height="21" fill="#c0c0c0"/>
<rect x="663" y="574" width="1" height="24" fill="#c0c0c0"/>
<rect x="671" y="574" width="1" height="27" fill="#c0c0c0"/>
<rect x="679" y="574" width="1" height="28" fill="#c0c0c0"/>
<rect x="687" y="574" width="1" height="28" fill="#c0c0c0"/>
<rect x="695" y="574" width="1" height="33" fill="#c0c0c0"/>
<rect x="703" y="574" width="1" height="41" fill="#c0c0c0"/>
<rect x="711" y="574" width="1" height="48" fill="#c0c0c0"/>
<rect x="719" y="574" width="1" height="52" fill="#c0c0c0"/>
<rect x="727" y="574" width="1" height="53" fill="#c0c0c0"/>
<rect x="735" y="574" width="1" height="54" fill="#c0c0c0"/>
<rect x="743" y="574" width="1" height="55" fill="#c0c0c0"/>
<rect x="751" y="574" width="1" height="52" fill="#c0c0c0"/>
<rect x="759" y="574" width="1" height="48" fill="#c0c0c0"/>
<rect x="767" y="574" width="1" height="43" fill="#c0c0c0"/>
<rect x="775" y="574" width="1" height="40" fill="#c0c0c0"/>
<rect x="783" y="574" width="1" height="36" fill="#c0c0c0"/>
<rect x="791" y="574" width="1" height="30" fill="#c0c0c0"/>
<rect x="799" y="574" width="1" height="31" fill="#c0c0c0"/>
<rect x="807" y="574" width="1" height="32" fill="#c0c0c0"/>
<rect x="815" y="574" width="1" height="33" fill="#c0c0c0"/>
<rect x="823" y="574" width="1" height="37" fill="#c0c0c0"/>
<rect x="831" y="574" width="1" height="41" fill="#c0c0c0"/>
<rect x="839" y="574" width="1" height="48" fill="#c0c0c0"/>
<rect x="847" y="574" width="1" height="54" fill="#c0c0c0"/>
<rect x="855" y="574" width="1" height="54" fill="#c0c0c0"/>
<rect x="863" y="574" width="1" height="53" fill="#c0c0c0"/>
<rect x="871" y="574" width="1" height="51" fill="#c0c0c0"/>
<rect x="879" y="574" width="1" height="46" fill="#c0c0c0"/>
<rect x="887" y="574" width="1" height="43" fill="#c0c0c0"/>
<rect x="895" y="574" width="1" height="39" fill="#c0c0c0"/>
<rect x="903" y="574" width="1" height="31" fill="#c0c0c0"/>
<rect x="911" y="574" width="1" height="25" fill="#c0c0c0"/>
<rect x="919" y="574" width="1" height="20" fill="#c0c0c0"/>
<rect x="927" y="574" width="1" height="17" fill="#c0c0c0"/>
<rect x="935" y="574" width="1" height="13" fill="#c0c0c0"/>
<rect x="943" y="574" width="1" height="14" fill="#c0c0c0"/>
<rect x="951" y="574" width="1" height="14" fill="#c0c0c0"/>
<rect x="959" y="574" width="1" height="8" fill="#c0c0c0"/>
<rect x="967" y="574" width="1" height="2" fill="#c0c0c0"/>
<rect x="975" y="572" width="1" height="3" fill="#c0c0c0"/>
<rect x="983" y="568" width="1" height="7" fill="#c0c0c0"/>
<rect x="991" y="567" width="1" height="8" fill="#c0c0c0"/>
<rect x="999" y="566" width="1" height="9" fill="#c0c0c0"/>
<rect x="1007" y="566" width="1" height="9" fill="#c0c0c0"/>
<rect x="1015" y="566" width="1" height="9" fill="#c0c0c0"/>
<rect x="1023" y="567" width="1" height="8" fill="#c0c0c0"/>
<rect x="1031" y="568" width="1" height="7" fill="#c0c0c0"/>
<rect x="1039" y="568" width="1" height="7" fill="#c0c0c0"/>
<rect x="1047" y="570" width="1" height="5" fill="#c0c0c0"/>
<rect x="1055" y="573" width="1" height="2" fill="#c0c0c0"/>
<rect x="1063" y="574" width="1" height="1" fill="#c0c0c0"/>
<rect x="1071" y="574" width="1" height="5" fill="#c0c0c0"/>
<rect x="1079" y="574" width="1" height="8" fill="#c0c0c0"/>
<rect x="1087" y="574" width="1" height="13" fill="#c0c0c0"/>
<rect x="1095" y="574" width="1" height="15" fill="#c0c0c0"/>
<rect x="1103" y="574" width="1" height="15" fill="#c0c0c0"/>
<rect x="1111" y="574" width="1" height="17" fill="#c0c0c0"/>
<rect x="1119" y="574" width="1" height="18" fill="#c0c0c0"/>
<rect x="1127" y="574" width="1" height="19" fill="#c0c0c0"/>
<rect x="1135" y="574" width="1" height="22" fill="#c0c0c0"/>
<rect x="1143" y="574" width="1" height="23" fill="#c0c0c0"/>
<rect x="1151" y="574" width="1" height="23" fill="#c0c0c0"/>
<rect x="1159" y="574" width="1" height="24" fill="#c0c0c0"/>
<rect x="1167" y="574" width="1" height="24" fill="#c0c0c0"/>
<rect x="1175" y="574" width="1" height="24" fill="#c0c0c0"/>
<rect x="1183" y="574" width="1" height="22" fill="#c0c0c0"/>
<rect x="1191" y="574" width="1" height="19" fill="#c0c0c0"/>
<rect x="1199" y="574" width="1" height="21" fill="#c0c0c0"/>
<rect x="1207" y="574" width="1" height="27" fill="#c0c0c0"/>
<rect x="1215" y="574" width="1" height="33" fill="#c0c0c0"/>
<rect x="1223" y="574" width="1" height="37" fill="#c0c0c0"/>
<rect x="1231" y="574" width="1" height="43" fill="#c0c0c0"/>
<rect x="1239" y="574" width="1" height="49" fill="#c0c0c0"/>
<rect x="1247" y="574" width="1" height="53" fill="#c0c0c0"/>
<rect x="1255" y="574" width="1" height="54" fill="#c0c0c0"/>
<rect x="1263" y="574" width="1" height="55" fill="#c0c0c0"/>
<rect x="1271" y="574" width="1" height="54" fill="#c0c0c0"/>
<rect x="1279" y="574" width="1" height="54" fill="#c0c0c0"/>
<rect x="1287" y="574" width="1" height="57" fill="#c0c0c0"/>
<rect x="1295" y="574" width="1" height="59" fill="#c0c0c0"/>
<rect x="1303" y="574" width="1" height="62" fill="#c0c0c0"/>
<rect x="1311" y="574" width="1" height="64" fill="#c0c0c0"/>
<rect x="1319" y="574" width="1" height="62" fill="#c0c0c0"/>
<rect x="1327" y="574" width="1" height="57" fill="#c0c0c0"/>
<rect x="1335" y="574" width="1" height="51" fill="#c0c0c0"/>
<rect x="1343" y="574" width="1" height="43" fill="#c0c0c0"/>
<rect x="1351" y="574" width="1" height="30" fill="#c0c0c0"/>
<rect x="1359" y="574" width="1" height="20" fill="#c0c0c0"/>
<rect x="1367" y="574" width="1" height="11" fill="#c0c0c0"/>
<rect x="1375" y="574" width="1" height="2" fill="#c0c0c0"/>
<rect x="1383" y="569" width="1" height="6" fill="#c0c0c0"/>
<rect x="1391" y="561" width="1" height="14" fill="#c0c0c0"/>
<rect x="1399" y="551" width="1" height="24" fill="#c0c0c0"/>
<rect x="1407" y="541" width="1" height="34" fill="#c0c0c0"/>
<rect x="1415" y="534" width="1" height="41" fill="#c0c0c0"/>
<rect x="1423" y="531" width="1" height="44" fill="#c0c0c0"/>
<rect x="1431" y="528" width="1" height="47" fill="#c0c0c0"/>
<rect x="1439" y="523" width="1" height="52" fill="#c0c0c0"/>
<rect x="1447" y="519" width="1" height="56" fill="#c0c0c0"/>
<rect x="1455" y="515" width="1" height="60" fill="#c0c0c0"/>
<rect x="1463" y="518" width="1" height="57" fill="#c0c0c0"/>
<rect x="1471" y="523" width="1" height="52" fill="#c0c0c0"/>
<rect x="1479" y="527" width="1" height="48" fill="#c0c0c0"/>
<rect x="1487" y="530" width="1" height="45" fill="#c0c0c0"/>
<rect x="1495" y="534" width="1" height="41" fill="#c0c0c0"/>
<rect x="1503" y="537" width="1" height="38" fill="#c0c0c0"/>
<rect x="1511" y="539" width="1" height="36" fill="#c0c0c0"/>
<rect x="1519" y="539" width="1" height="36" fill="#c0c0c0"/>
<rect x="1527" y="539" width="1" height="36" fill="#c0c0c0"/>
<rect x="1535" y="539" width="1" height="36" fill="#c0c0c0"/>
<rect x="1543" y="538" width="1" height="37" fill="#c0c0c0"/>
<rect x="1551" y="538" width="1" height="37" fill="#c0c0c0"/>
<rect x="1559" y="535" width="1" height="40" fill="#c0c0c0"/>
<rect x="1567" y="535" width="1" height="40" fill="#c0c0c0"/>
<rect x="1575" y="538" width="1" height="37" fill="#c0c0c0"/>
<rect x="1583" y="539" width="1" height="36" fill="#c0c0c0"/>
<rect x="1591" y="539" width="1" height="36" fill="#c0c0c0"/>
<rect x="1599" y="540" width="1" height="35" fill="#c0c0c0"/>
<rect x="1607" y="540" width="1" height="35" fill="#c0c0c0"/>
<rect x="1615" y="542" width="1" height="33" fill="#c0c0c0"/>
<rect x="1623" y="545" width="1" height="30" fill="#c0c0c0"/>
<rect x="1631" y="547" width="1" height="28" fill="#c0c0c0"/>
<rect x="1639" y="549" width="1" height="26" fill="#c0c0c0"/>
<rect x="1647" y="552" width="1" height="23" fill="#c0c0c0"/>
<rect x="1655" y="554" width="1" height="21" fill="#c0c0c0"/>
<rect x="1663" y="555" width="1" height="20" fill="#c0c0c0"/>
<polyline points="0.5,563.7 10.5,567.3 20.7,574.4 30.9,580.5 41.0,587.1 51.1,591.6 61.2,595.2 71.4,598.1 81.5,600.1 101.7,603.3 115.9,605.4 122.0,607.8 132.1,614.9 142.2,623.5 152.3,630.1 162.5,637.1 172.5,644.6 182.7,650.3 192.8,653.3 202.9,653.9 213.1,651.3 223.2,646.2 233.3,638.2 243.5,629.0 253.5,619.9 263.7,608.8 273.8,597.7 283.9,586.5 290.5,579.3 295.7,574.1 302.7,568.1 309.6,562.8 316.5,558.9 325.2,554.2 333.9,549.8 342.6,546.0 351.3,543.7 360.0,542.9 368.7,542.0 377.4,541.7 391.2,539.9 412.1,540.3 420.8,541.1 434.7,541.1 446.8,542.9 455.5,544.6 464.2,547.7 472.9,550.2 481.5,553.6 490.3,555.4 498.9,557.6 511.1,558.9 533.7,558.9 551.1,557.1 556.3,555.9 568.5,555.9 586.5,555.3 603.9,557.0 612.5,560.5 621.2,563.1 629.9,567.4 638.6,571.4 647.3,574.9 656.0,579.6 664.7,584.8 673.4,590.0 682.0,592.6 690.7,594.7 699.4,598.2 708.1,602.2 716.8,606.2 725.5,610.0 734.1,613.5 742.8,616.9 751.5,619.5 760.2,621.8 768.9,623.5 777.5,623.0 786.3,621.3 794.9,618.3 803.6,615.5 812.3,613.1 821.0,610.8 829.7,610.3 838.4,610.8 847.0,612.6 855.7,614.3 864.4,616.9 873.1,618.7 882.5,621.7 903.3,620.8 908.5,619.1 917.2,615.1 925.9,610.4 934.6,605.7 943.3,601.7 952.0,597.4 960.7,593.1 969.4,589.1 978.0,586.1 986.7,581.8 995.4,577.9 1004.1,575.7 1012.8,572.7 1021.5,570.0 1030.1,568.2 1038.8,567.9 1047.5,567.0 1056.2,567.9 1064.9,568.7 1073.5,570.0 1082.3,572.7 1090.9,575.2 1099.6,577.4 1108.3,580.4 1117.0,583.5 1125.7,585.2 1134.4,587.8 1143.0,590.8 1151.7,591.8 1160.4,593.1 1169.1,594.3 1178.5,595.3 1201.1,596.0 1209.8,597.4 1221.9,600.0 1234.1,602.6 1248.0,606.9 1256.7,610.4 1265.4,614.7 1274.0,619.1 1282.7,623.4 1291.4,625.5 1300.1,628.3 1308.8,630.7 1317.5,631.7 1334.8,631.7 1343.5,630.7 1352.2,627.2 1360.9,623.1 1369.5,617.3 1378.3,610.4 1386.9,602.6 1395.6,592.5 1404.3,580.8 1413.0,569.6 1421.7,561.2 1430.4,553.9 1439.0,546.1 1447.7,540.0 1456.4,533.1 1465.1,528.2 1473.8,525.3 1483.2,523.9 1499.8,523.9 1506.2,525.5 1512.5,526.8 1518.9,528.3 1525.3,530.6 1531.6,533.2 1540.5,534.4 1549.5,536.6 1559.7,537.9 1623.4,538.8 1629.7,540.8 1642.5,542.6 1655.2,544.6 1663.5,546.8" fill="none" stroke="#ff0000" stroke-width="1" stroke-dasharray="3 2"/>
</g>
<g clip-path="url(#cr)">
<line x1="0" y1="715.5" x2="1684" y2="715.5" stroke="#c0c0c0" stroke-width="1" stroke-dasharray="3 3"/>
<line x1="0" y1="773.5" x2="1684" y2="773.5" stroke="#c0c0c0" stroke-width="1" stroke-dasharray="3 3"/>
<polyline points="0.5,767.8 7.5,768.7 15.5,754.9 23.5,766.9 31.5,766.9 39.5,763.9 47.5,763.0 55.5,761.5 63.5,757.0 71.5,762.6 79.5,764.8 87.5,766.0 95.5,769.8 103.5,772.0 111.5,784.5 119.5,792.6 127.5,796.8 135.5,792.1 143.5,793.2 151.5,778.8 159.5,783.6 167.5,771.1 175.5,770.2 183.5,775.6 191.5,771.6 199.5,759.0 207.5,754.0 215.5,735.1 223.5,736.9 231.5,736.0 239.5,738.7 247.5,737.8 255.5,730.6 263.5,728.5 271.5,724.9 279.5,723.8 287.5,725.6 295.5,724.9 303.5,723.6 311.5,723.6 319.5,721.0 327.5,719.6 335.5,717.9 343.5,730.4 351.5,737.3 359.5,730.4 367.5,728.6 375.5,721.0 383.5,721.0 391.5,720.0 399.5,727.4 407.5,726.2 415.5,731.4 423.5,730.0 431.5,740.8 439.5,743.9 447.5,743.1 455.5,741.3 463.5,744.8 471.5,742.2 479.5,737.0 487.5,732.6 495.5,732.6 503.5,725.2 511.5,721.7 519.5,728.3 527.5,733.5 535.5,730.0 543.5,727.9 551.5,722.2 559.5,726.6 567.5,727.4 575.5,726.9 583.5,743.6 591.5,744.8 599.5,742.5 607.5,773.5 615.5,763.4 623.5,759.9 631.5,762.7 639.5,761.6 647.5,760.9 655.5,766.5 663.5,767.9 671.5,769.6 679.5,765.1 687.5,760.9 695.5,776.1 703.5,782.5 711.5,784.7 719.5,781.8 727.5,774.3 735.5,776.9 743.5,777.8 751.5,759.9 759.5,757.0 767.5,758.7 775.5,754.7 783.5,750.9 791.5,743.1 799.5,760.9 807.5,762.7 815.5,763.9 823.5,771.7 831.5,772.6 839.5,780.8 847.5,781.8 855.5,768.6 863.5,763.9 871.5,764.8 879.5,761.6 887.5,750.0 895.5,751.7 903.5,740.1 911.5,741.8 919.5,740.1 927.5,744.8 935.5,740.8 943.5,755.2 951.5,751.7 959.5,732.6 967.5,732.6 975.5,734.9 983.5,732.6 991.5,740.1 999.5,737.0 1007.5,740.1 1015.5,740.1 1023.5,743.9 1031.5,743.9 1039.5,740.1 1047.5,746.0 1055.5,754.7 1063.5,756.1 1071.5,754.3 1079.5,760.4 1087.5,765.1 1095.5,759.6 1103.5,755.2 1111.5,759.2 1119.5,760.4 1127.5,762.2 1135.5,766.9 1143.5,763.9 1151.5,760.9 1159.5,763.9 1167.5,764.8 1175.5,760.9 1183.5,757.0 1191.5,743.9 1199.5,763.4 1207.5,774.3 1215.5,776.6 1223.5,776.6 1231.5,783.5 1239.5,785.6 1247.5,785.6 1255.5,770.8 1263.5,774.8 1271.5,768.6 1279.5,772.1 1287.5,778.7 1295.5,778.7 1303.5,782.5 1311.5,782.5 1319.5,773.8 1327.5,757.5 1335.5,753.0 1343.5,742.2 1351.5,728.6 1359.5,729.7 1367.5,727.9 1375.5,726.9 1383.5,723.4 1391.5,717.9 1399.5,712.7 1407.5,708.8 1415.5,708.8 1423.5,717.5 1431.5,715.8 1439.5,711.3 1447.5,709.5 1455.5,705.7 1463.5,728.3 1471.5,735.7 1479.5,732.8 1487.5,733.8 1495.5,733.8 1503.5,735.1 1511.5,731.9 1519.5,728.1 1527.5,725.9 1535.5,723.0 1543.5,721.7 1551.5,723.0 1559.5,713.2 1567.5,724.6 1575.5,735.3 1583.5,729.4 1591.5,727.7 1599.5,726.8 1607.5,727.2 1615.5,731.5 1623.5,732.8 1631.5,736.6 1639.5,731.9 1647.5,738.7 1655.5,737.0 1663.5,737.0" fill="none" stroke="#1e90ff" stroke-width="1"/>
</g>
<rect x="1685" y="5" width="3" height="1" fill="#000"/><rect x="1685" y="38" width="3" height="1" fill="#000"/><rect x="1685" y="71" width="3" height="1" fill="#000"/><rect x="1685" y="104" width="3" height="1" fill="#000"/><rect x="1685" y="137" width="3" height="1" fill="#000"/><rect x="1685" y="170" width="3" height="1" fill="#000"/><rect x="1685" y="203" width="3" height="1" fill="#000"/><rect x="1685" y="236" width="3" height="1" fill="#000"/><rect x="1685" y="269" width="3" height="1" fill="#000"/><rect x="1685" y="302" width="3" height="1" fill="#000"/><rect x="1685" y="335" width="3" height="1" fill="#000"/><rect x="1685" y="368" width="3" height="1" fill="#000"/><rect x="1685" y="401" width="3" height="1" fill="#000"/><rect x="1685" y="434" width="3" height="1" fill="#000"/><rect x="1685" y="467" width="3" height="1" fill="#000"/><rect x="1685" y="500" width="3" height="1" fill="#000"/><rect x="1685" y="507" width="3" height="1" fill="#000"/><rect x="1685" y="574" width="3" height="1" fill="#000"/><rect x="1685" y="666" width="3" height="1" fill="#000"/><rect x="1685" y="670" width="3" height="1" fill="#000"/><rect x="1685" y="817" width="3" height="1" fill="#000"/><rect x="63" y="819" width="1" height="3" fill="#000"/><rect x="127" y="819" width="1" height="3" fill="#000"/><rect x="191" y="819" width="1" height="3" fill="#000"/><rect x="255" y="819" width="1" height="3" fill="#000"/><rect x="319" y="819" width="1" height="3" fill="#000"/><rect x="383" y="819" width="1" height="3" fill="#000"/><rect x="447" y="819" width="1" height="3" fill="#000"/><rect x="511" y="819" width="1" height="3" fill="#000"/><rect x="575" y="819" width="1" height="3" fill="#000"/><rect x="639" y="819" width="1" height="3" fill="#000"/><rect x="703" y="819" width="1" height="3" fill="#000"/><rect x="767" y="819" width="1" height="3" fill="#000"/><rect x="831" y="819" width="1" height="3" fill="#000"/><rect x="895" y="819" width="1" height="3" fill="#000"/><rect x="959" y="819" width="1" height="3" fill="#000"/><rect x="1023" y="819" width="1" height="3" fill="#000"/><rect x="1087" y="819" width="1" height="3" fill="#000"/><rect x="1151" y="819" width="1" height="3" fill="#000"/><rect x="1215" y="819" width="1" height="3" fill="#000"/><rect x="1279" y="819" width="1" height="3" fill="#000"/><rect x="1343" y="819" width="1" height="3" fill="#000"/><rect x="1407" y="819" width="1" height="3" fill="#000"/><rect x="1471" y="819" width="1" height="3" fill="#000"/><rect x="1535" y="819" width="1" height="3" fill="#000"/><rect x="1599" y="819" width="1" height="3" fill="#000"/><rect x="1663" y="819" width="1" height="3" fill="#000"/>
</g>
<text x="1690" y="8.4" font-size="9.5" fill="#000" stroke="#000" stroke-width="0.2" text-anchor="start">76.150</text>
<text x="1690" y="41.4" font-size="9.5" fill="#000" stroke="#000" stroke-width="0.2" text-anchor="start">75.390</text>
<text x="1690" y="74.4" font-size="9.5" fill="#000" stroke="#000" stroke-width="0.2" text-anchor="start">74.630</text>
<text x="1690" y="107.4" font-size="9.5" fill="#000" stroke="#000" stroke-width="0.2" text-anchor="start">73.870</text>
<text x="1690" y="140.4" font-size="9.5" fill="#000" stroke="#000" stroke-width="0.2" text-anchor="start">73.110</text>
<text x="1690" y="173.4" font-size="9.5" fill="#000" stroke="#000" stroke-width="0.2" text-anchor="start">72.350</text>
<text x="1690" y="206.4" font-size="9.5" fill="#000" stroke="#000" stroke-width="0.2" text-anchor="start">71.590</text>
<text x="1690" y="239.4" font-size="9.5" fill="#000" stroke="#000" stroke-width="0.2" text-anchor="start">70.830</text>
<text x="1690" y="272.4" font-size="9.5" fill="#000" stroke="#000" stroke-width="0.2" text-anchor="start">70.070</text>
<text x="1690" y="305.4" font-size="9.5" fill="#000" stroke="#000" stroke-width="0.2" text-anchor="start">69.310</text>
<text x="1690" y="338.4" font-size="9.5" fill="#000" stroke="#000" stroke-width="0.2" text-anchor="start">68.550</text>
<text x="1690" y="371.4" font-size="9.5" fill="#000" stroke="#000" stroke-width="0.2" text-anchor="start">67.810</text>
<text x="1690" y="404.4" font-size="9.5" fill="#000" stroke="#000" stroke-width="0.2" text-anchor="start">67.050</text>
<text x="1690" y="437.4" font-size="9.5" fill="#000" stroke="#000" stroke-width="0.2" text-anchor="start">66.290</text>
<text x="1690" y="470.4" font-size="9.5" fill="#000" stroke="#000" stroke-width="0.2" text-anchor="start">65.530</text>
<text x="1690" y="503.4" font-size="9.5" fill="#000" stroke="#000" stroke-width="0.2" text-anchor="start">64.770</text>
<rect x="1686" y="5" width="36" height="11" fill="#ff0000"/>
<text x="1690" y="13.4" font-size="9.5" fill="#fff" stroke="#fff" stroke-width="0.2" text-anchor="start">76.000</text>
<rect x="1686" y="136" width="36" height="11" fill="#ff0000"/>
<text x="1690" y="144.4" font-size="9.5" fill="#fff" stroke="#fff" stroke-width="0.2" text-anchor="start">73.000</text>
<rect x="1686" y="196" width="36" height="11" fill="#000000"/>
<text x="1690" y="204.4" font-size="9.5" fill="#fff" stroke="#fff" stroke-width="0.2" text-anchor="start">71.650</text>
<rect x="1686" y="266" width="36" height="11" fill="#32cd32"/>
<text x="1690" y="274.4" font-size="9.5" fill="#fff" stroke="#fff" stroke-width="0.2" text-anchor="start">70.000</text>
<rect x="1686" y="397" width="36" height="11" fill="#4169e1"/>
<text x="1690" y="405.4" font-size="9.5" fill="#fff" stroke="#fff" stroke-width="0.2" text-anchor="start">67.000</text>
<text x="1688" y="516" font-size="9.5" fill="#000" stroke="#000" stroke-width="0.2" text-anchor="start">1.2376</text>
<text x="1688" y="578" font-size="9.5" fill="#000" stroke="#000" stroke-width="0.2" text-anchor="start">0.00</text>
<text x="1688" y="663" font-size="9.5" fill="#000" stroke="#000" stroke-width="0.2" text-anchor="start">-1.6762</text>
<text x="1688" y="680" font-size="9.5" fill="#000" stroke="#000" stroke-width="0.2" text-anchor="start">100</text>
<text x="1688" y="719" font-size="9.5" fill="#000" stroke="#000" stroke-width="0.2" text-anchor="start">70</text>
<text x="1688" y="777" font-size="9.5" fill="#000" stroke="#000" stroke-width="0.2" text-anchor="start">30</text>
<text x="1688" y="814" font-size="9.5" fill="#000" stroke="#000" stroke-width="0.2" text-anchor="start">0</text>
<text x="-3.5" y="831" font-size="9.5" fill="#000" stroke="#000" stroke-width="0.2" text-anchor="start">15 Jul 2021</text>
<text x="62" y="831" font-size="9.5" fill="#000" stroke="#000" stroke-width="0.2" text-anchor="start">16 Jul 12:00</text>
<text x="126" y="831" font-size="9.5" fill="#000" stroke="#000" stroke-width="0.2" text-anchor="start">19 Jul 16:00</text>
<text x="190" y="831" font-size="9.5" fill="#000" stroke="#000" stroke-width="0.2" text-anchor="start">21 Jul 00:00</text>
<text x="254" y="831" font-size="9.5" fill="#000" stroke="#000" stroke-width="0.2" text-anchor="start">22 Jul 08:00</text>
<text x="318" y="831" font-size="9.5" fill="#000" stroke="#000" stroke-width="0.2" text-anchor="start">23 Jul 16:00</text>
<text x="382" y="831" font-size="9.5" fill="#000" stroke="#000" stroke-width="0.2" text-anchor="start">26 Jul 20:00</text>
<text x="446" y="831" font-size="9.5" fill="#000" stroke="#000" stroke-width="0.2" text-anchor="start">28 Jul 08:00</text>
<text x="510" y="831" font-size="9.5" fill="#000" stroke="#000" stroke-width="0.2" text-anchor="start">29 Jul 16:00</text>
<text x="574" y="831" font-size="9.5" fill="#000" stroke="#000" stroke-width="0.2" text-anchor="start">1 Aug 23:00</text>
<text x="638" y="831" font-size="9.5" fill="#000" stroke="#000" stroke-width="0.2" text-anchor="start">3 Aug 04:00</text>
<text x="702" y="831" font-size="9.5" fill="#000" stroke="#000" stroke-width="0.2" text-anchor="start">4 Aug 12:00</text>
<text x="766" y="831" font-size="9.5" fill="#000" stroke="#000" stroke-width="0.2" text-anchor="start">5 Aug 20:00</text>
<text x="830" y="831" font-size="9.5" fill="#000" stroke="#000" stroke-width="0.2" text-anchor="start">9 Aug 00:00</text>
<text x="894" y="831" font-size="9.5" fill="#000" stroke="#000" stroke-width="0.2" text-anchor="start">10 Aug 08:00</text>
<text x="958" y="831" font-size="9.5" fill="#000" stroke="#000" stroke-width="0.2" text-anchor="start">11 Aug 16:00</text>
<text x="1022" y="831" font-size="9.5" fill="#000" stroke="#000" stroke-width="0.2" text-anchor="start">13 Aug 00:00</text>
<text x="1086" y="831" font-size="9.5" fill="#000" stroke="#000" stroke-width="0.2" text-anchor="start">16 Aug 04:00</text>
<text x="1150" y="831" font-size="9.5" fill="#000" stroke="#000" stroke-width="0.2" text-anchor="start">17 Aug 12:00</text>
<text x="1214" y="831" font-size="9.5" fill="#000" stroke="#000" stroke-width="0.2" text-anchor="start">18 Aug 20:00</text>
<text x="1278" y="831" font-size="9.5" fill="#000" stroke="#000" stroke-width="0.2" text-anchor="start">20 Aug 04:00</text>
<text x="1342" y="831" font-size="9.5" fill="#000" stroke="#000" stroke-width="0.2" text-anchor="start">23 Aug 08:00</text>
<text x="1406" y="831" font-size="9.5" fill="#000" stroke="#000" stroke-width="0.2" text-anchor="start">24 Aug 16:00</text>
<text x="1470" y="831" font-size="9.5" fill="#000" stroke="#000" stroke-width="0.2" text-anchor="start">26 Aug 04:00</text>
<text x="1534" y="831" font-size="9.5" fill="#000" stroke="#000" stroke-width="0.2" text-anchor="start">27 Aug 12:00</text>
<text x="1598" y="831" font-size="9.5" fill="#000" stroke="#000" stroke-width="0.2" text-anchor="start">30 Aug 16:00</text>
<text x="1662" y="831" font-size="9.5" fill="#000" stroke="#000" stroke-width="0.2" text-anchor="start">31 Aug 21:15</text>
<text x="14" y="15" font-size="10" fill="#000" stroke="#000" stroke-width="0.2" text-anchor="start" textLength="43" lengthAdjust="spacingAndGlyphs">UKOil,H4</text>
<text x="63.2" y="15" font-size="10" fill="#000" stroke="#000" stroke-width="0.2" text-anchor="start" textLength="27.2" lengthAdjust="spacingAndGlyphs">71.650</text>
<text x="94.4" y="15" font-size="10" fill="#000" stroke="#000" stroke-width="0.2" text-anchor="start" textLength="27.2" lengthAdjust="spacingAndGlyphs">71.650</text>
<text x="125.6" y="15" font-size="10" fill="#000" stroke="#000" stroke-width="0.2" text-anchor="start" textLength="27.2" lengthAdjust="spacingAndGlyphs">71.650</text>
<text x="156.8" y="15" font-size="10" fill="#000" stroke="#000" stroke-width="0.2" text-anchor="start" textLength="27.2" lengthAdjust="spacingAndGlyphs">71.650</text>
<rect x="0" y="10" width="1684" height="2" fill="#ff0000" shape-rendering="crispEdges"/>
<path d="M1.5,10 L9,10 L5.25,14 Z" fill="#000"/>
<text x="3" y="518" font-size="10" fill="#000" stroke="#000" stroke-width="0.2" text-anchor="start" textLength="129" lengthAdjust="spacingAndGlyphs">MACD(12,26,9) 0.3663 0.5168</text>
<text x="3" y="682" font-size="10" fill="#000" stroke="#000" stroke-width="0.2" text-anchor="start" textLength="69" lengthAdjust="spacingAndGlyphs">RSI(14) 55.1219</text>
<text x="1272.5" y="95" font-size="37" fill="#e8141c" textLength="224" lengthAdjust="spacingAndGlyphs" style="font-family:'Liberation Sans','Noto Sans CJK SC',sans-serif">多空转折点70</text>
</svg>
</body></html>
